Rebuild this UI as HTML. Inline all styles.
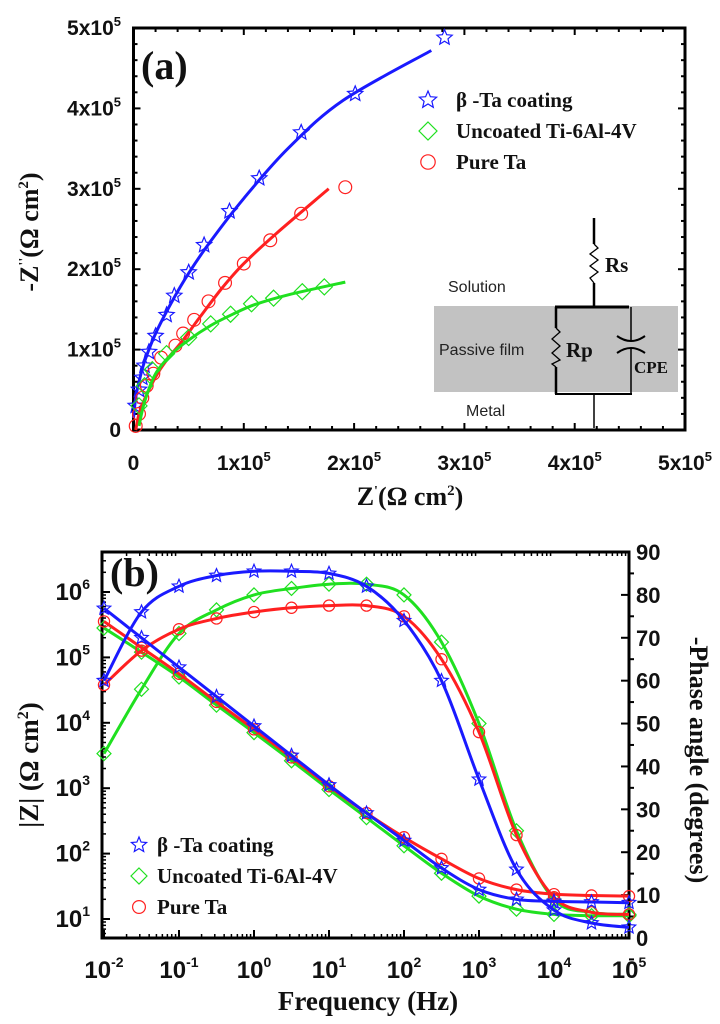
<!DOCTYPE html>
<html><head><meta charset="utf-8">
<style>
html,body{margin:0;padding:0;background:#fff;}
svg{display:block;}
text{font-family:"Liberation Serif",serif;font-weight:bold;fill:#111;}
.sans{font-family:"Liberation Sans",sans-serif;font-weight:normal;fill:#222;}
</style></head>
<body>
<svg id="fig" width="720" height="1024" viewBox="0 0 720 1024" xmlns="http://www.w3.org/2000/svg">
<rect width="720" height="1024" fill="#fff"/>
<g id="pa"></g>
<g id="pb"></g>
</svg>
<script>
// ---------- Panel (a) Nyquist data (units of 1e5 ohm cm2) ----------
const nyqBlueX = [0.02,0.05,0.08,0.1,0.14,0.2,0.3,0.37,0.5,0.64,0.87,1.14,1.52,2.01,2.82];
const nyqBlueY = [0.3,0.5,0.65,0.8,0.97,1.17,1.43,1.67,1.96,2.3,2.72,3.13,3.7,4.18,4.88];
const nyqRedX = [0.02,0.05,0.08,0.12,0.18,0.25,0.38,0.45,0.55,0.68,0.83,1.0,1.24,1.52,1.92];
const nyqRedY = [0.05,0.2,0.4,0.55,0.7,0.9,1.05,1.2,1.37,1.6,1.83,2.07,2.36,2.69,3.02];
const nyqGreenX = [0.05,0.1,0.17,0.3,0.5,0.7,0.88,1.07,1.27,1.53,1.73];
const nyqGreenY = [0.3,0.55,0.75,0.95,1.15,1.32,1.44,1.57,1.64,1.72,1.78];
const fitBlueX = [0,0.02,0.05,0.1,0.2,0.35,0.5,0.7,1.0,1.4,1.9,2.7];
const fitBlueY = [0.15,0.4,0.6,0.85,1.2,1.6,1.95,2.35,2.88,3.5,4.1,4.72];
const fitRedX = [0.02,0.05,0.1,0.2,0.3,0.45,0.6,0.8,1.0,1.3,1.77];
const fitRedY = [0,0.2,0.38,0.66,0.87,1.12,1.4,1.76,2.07,2.45,3.0];
const fitGreenX = [0.05,0.1,0.2,0.35,0.5,0.7,0.9,1.1,1.4,1.92];
const fitGreenY = [0.05,0.35,0.7,0.95,1.12,1.3,1.44,1.56,1.68,1.84];
const nyqTicks = [0,1,2,3,4,5];
const nyqTickLabels = ["0","1x10","2x10","3x10","4x10","5x10"];

// ---------- Panel (b) Bode data ----------
const logFreq = [-2,-1.5,-1,-0.5,0,0.5,1,1.5,2,2.5,3,3.5,4,4.5,5];
const logZBlue = [5.75,5.30,4.85,4.40,3.95,3.50,3.05,2.62,2.20,1.78,1.45,1.30,1.27,1.26,1.25];
const logZRed = [5.55,5.15,4.75,4.32,3.90,3.47,3.03,2.62,2.25,1.92,1.62,1.45,1.38,1.36,1.35];
const logZGreen = [5.45,5.08,4.70,4.27,3.85,3.42,2.98,2.55,2.12,1.70,1.35,1.15,1.07,1.05,1.05];
const phaseBlue = [60,76,82,84.5,85.5,85.5,85,82,74,60,37,16,6.5,3.5,2.5];
const phaseGreen = [43,58,71,76.5,80,81.5,82.5,82.5,80,69,50,25,9,6,5.5];
const phaseRed = [59,67,72,74.5,76,77,77.5,77.5,75,65,48,24,9.5,6,5.5];
const freqTicks = [-2,-1,0,1,2,3,4,5];
const zTicks = [1,2,3,4,5,6];
const phaseTicks = [0,10,20,30,40,50,60,70,80,90];

const NS="http://www.w3.org/2000/svg";
function mk(parent,tag,attrs,txt){const e=document.createElementNS(NS,tag);for(const k in attrs)e.setAttribute(k,attrs[k]);if(txt!==undefined)e.textContent=txt;parent.appendChild(e);return e;}
function smooth(pts){if(pts.length<2)return "";let d="M"+pts[0][0]+","+pts[0][1];for(let i=0;i<pts.length-1;i++){const p0=pts[Math.max(0,i-1)],p1=pts[i],p2=pts[i+1],p3=pts[Math.min(pts.length-1,i+2)];const c1=[p1[0]+(p2[0]-p0[0])/6,p1[1]+(p2[1]-p0[1])/6],c2=[p2[0]-(p3[0]-p1[0])/6,p2[1]-(p3[1]-p1[1])/6];d+=" C"+c1[0].toFixed(1)+","+c1[1].toFixed(1)+" "+c2[0].toFixed(1)+","+c2[1].toFixed(1)+" "+p2[0].toFixed(1)+","+p2[1].toFixed(1);}return d;}
function marker(g,type,x,y,r,color){
  let e;
  if(type==="star"){let d="";for(let i=0;i<10;i++){const a=-Math.PI/2+i*Math.PI/5;const rr=i%2?r*0.45:r;d+=(i?"L":"M")+(x+rr*Math.cos(a)).toFixed(1)+","+(y+rr*Math.sin(a)).toFixed(1);}e=mk(g,"path",{d:d+"Z",fill:"none",stroke:color,"stroke-width":1.2});}
  else if(type==="diamond"){e=mk(g,"path",{d:`M${x},${y-r}L${x+r},${y}L${x},${y+r}L${x-r},${y}Z`,fill:"none",stroke:color,"stroke-width":1.2});}
  else {e=mk(g,"circle",{cx:x,cy:y,r:r*0.8,fill:"none",stroke:color,"stroke-width":1.2});}
  return e;
}
const BLUE="#1a1aff",RED="#ff2020",GREEN="#20e020";

// ================= Panel (a) =================
(function(){
const g=document.getElementById("pa");
const L=133.5,R=685,T=28,B=430;
const sx=v=>L+v*(R-L)/5, sy=v=>B-v*(B-T)/5;
// inset circuit
const ins=mk(g,"g",{});


const gr=mk(ins,"rect",{x:434,y:306,width:244,height:86,fill:"#c2c2c2"});


mk(ins,"line",{x1:594,y1:218,x2:594,y2:244,stroke:"#000","stroke-width":2.5});
mk(ins,"path",{d:"M594,244 L598,248 L590,254 L598,260 L590,266 L598,272 L590,278 L594,283",fill:"none",stroke:"#000","stroke-width":1.3});
mk(ins,"line",{x1:594,y1:283,x2:594,y2:307,stroke:"#000","stroke-width":2.5});
mk(ins,"line",{x1:555,y1:307,x2:629,y2:307,stroke:"#000","stroke-width":3});
mk(ins,"line",{x1:556,y1:307,x2:556,y2:328,stroke:"#000","stroke-width":2.5});
mk(ins,"path",{d:"M556,328 L560,332 L552,339 L560,346 L552,353 L560,360 L552,364 L556,367",fill:"none",stroke:"#000","stroke-width":1.3});
mk(ins,"line",{x1:556,y1:367,x2:556,y2:394,stroke:"#000","stroke-width":2.5});
mk(ins,"line",{x1:631,y1:307,x2:631,y2:340,stroke:"#000","stroke-width":1.5});
mk(ins,"path",{d:"M617,336 Q631,346 645,336",fill:"none",stroke:"#000","stroke-width":2});
mk(ins,"path",{d:"M617,353 Q631,343 645,353",fill:"none",stroke:"#000","stroke-width":2});
mk(ins,"line",{x1:631,y1:349,x2:631,y2:394,stroke:"#000","stroke-width":1.5});
mk(ins,"line",{x1:555,y1:394,x2:632,y2:394,stroke:"#000","stroke-width":2});
mk(ins,"line",{x1:594,y1:394,x2:594,y2:428,stroke:"#000","stroke-width":1.5});
let t;
t=mk(ins,"text",{x:605,y:272,"font-size":21,"font-weight":"normal"},"Rs");

t=mk(ins,"text",{x:566,y:357,"font-size":21,"font-weight":"normal"},"Rp");

t=mk(ins,"text",{x:634,y:373,"font-size":17},"CPE");

t=mk(ins,"text",{x:448,y:292,"font-size":16,class:"sans"},"Solution");

t=mk(ins,"text",{x:439,y:355,"font-size":16,class:"sans"},"Passive film");

t=mk(ins,"text",{x:466,y:416,"font-size":16,class:"sans"},"Metal");


// axes box
const box=mk(g,"rect",{x:L,y:T,width:R-L,height:B-T,fill:"none",stroke:"#000","stroke-width":3});

for(let i=0;i<=25;i++){const v=i/5;const big=i%5===0;const len=big?7:4;
  mk(g,"line",{x1:sx(v),y1:B,x2:sx(v),y2:B-len,stroke:"#000","stroke-width":2});
  mk(g,"line",{x1:sx(v),y1:T,x2:sx(v),y2:T+len,stroke:"#000","stroke-width":2});
  mk(g,"line",{x1:L,y1:sy(v),x2:L+len,y2:sy(v),stroke:"#000","stroke-width":2});
  mk(g,"line",{x1:R,y1:sy(v),x2:R-len,y2:sy(v),stroke:"#000","stroke-width":2});}
nyqTicks.forEach((v,i)=>{
  const xl=mk(g,"text",{x:sx(v)+(v?0:0),y:470,"font-size":21,"text-anchor":"middle",class:"sans","style":"font-weight:bold;fill:#111"});
  
  xl.textContent=nyqTickLabels[i];
  if(v){const s=mk(xl,"tspan",{dy:-9,"font-size":13},"5");}
  const yl=mk(g,"text",{x:121,y:sy(v)+7,"font-size":21,"text-anchor":"end",class:"sans","style":"font-weight:bold;fill:#111"});
  
  yl.textContent=nyqTickLabels[i];
  if(v){mk(yl,"tspan",{dy:-9,"font-size":13},"5");}
});
t=mk(g,"text",{x:410,y:505,"font-size":26,"text-anchor":"middle"});

t.innerHTML='Z<tspan dy="-10" font-size="14">\'</tspan><tspan dy="10">(Ω cm</tspan><tspan dy="-10" font-size="15">2</tspan><tspan dy="10">)</tspan>';
t=mk(g,"text",{x:0,y:0,"font-size":26,"text-anchor":"middle",transform:"translate(38,232) rotate(-90)"});

t.innerHTML='-Z<tspan dy="-10" font-size="14">\'\'</tspan><tspan dy="10">(Ω cm</tspan><tspan dy="-10" font-size="15">2</tspan><tspan dy="10">)</tspan>';
t=mk(g,"text",{x:141,y:79,"font-size":40},"(a)");


// series
const series=[
 {n:"beta-ta",x:nyqBlueX,y:nyqBlueY,fx:fitBlueX,fy:fitBlueY,c:BLUE,m:"star"},
 {n:"pure-ta",x:nyqRedX,y:nyqRedY,fx:fitRedX,fy:fitRedY,c:RED,m:"circle"},
 {n:"uncoated",x:nyqGreenX,y:nyqGreenY,fx:fitGreenX,fy:fitGreenY,c:GREEN,m:"diamond"}];
series.forEach(s=>{
  const sg=mk(g,"g",{});
  
  
  s.x.forEach((v,i)=>{const mkr=marker(sg,s.m,sx(v),sy(s.y[i]),8,s.c);
    
    });
  const p=mk(sg,"path",{d:smooth(s.fx.map((v,i)=>[sx(v),sy(s.fy[i])])),fill:"none",stroke:s.c,"stroke-width":3});
  
  
});
// legend
const lg=mk(g,"g",{});

[["star",BLUE,"β  -Ta coating"],["diamond",GREEN,"Uncoated Ti-6Al-4V"],["circle",RED,"Pure Ta"]].forEach((e,i)=>{
  const y=100+i*31;
  const le=mk(lg,"g",{});
  
  marker(le,e[0],428,y,9,e[1]);
  mk(le,"text",{x:456,y:y+7,"font-size":21},e[2]);
});
})();

// ================= Panel (b) =================
(function(){
const g=document.getElementById("pb");
const L=102,R=629,T=552,B=938;
const sx=v=>104+(v+2)*(R-104)/7;
const zy=v=>592-(v-6)*65.4;
const py=v=>B-v*(B-T)/90;
const box=mk(g,"rect",{x:L,y:T,width:R-L,height:B-T,fill:"none",stroke:"#000","stroke-width":3});

// x ticks
for(let d=-2;d<=5;d++){
  mk(g,"line",{x1:sx(d),y1:B,x2:sx(d),y2:B-8,stroke:"#000","stroke-width":2});
  if(d<5)for(let k=2;k<10;k++){const xv=sx(d+Math.log10(k));mk(g,"line",{x1:xv,y1:B,x2:xv,y2:B-4,stroke:"#000","stroke-width":1.5});mk(g,"line",{x1:xv,y1:T,x2:xv,y2:T+4,stroke:"#000","stroke-width":1.5});}
}
freqTicks.forEach(v=>{
  const t=mk(g,"text",{x:sx(v),y:978,"font-size":24,"text-anchor":"middle",class:"sans","style":"font-weight:bold;fill:#111"},"10");
  
  mk(t,"tspan",{dy:-11,"font-size":14},String(v));
});
// left log ticks
for(let d=0;d<=6;d++){
  const yv=zy(d);
  if(yv>=T&&yv<=B)mk(g,"line",{x1:L,y1:yv,x2:L+8,y2:yv,stroke:"#000","stroke-width":2});
  for(let k=2;k<10;k++){const y2=zy(d+Math.log10(k));if(y2>=T&&y2<=B)mk(g,"line",{x1:L,y1:y2,x2:L+4,y2:y2,stroke:"#000","stroke-width":1.5});}
}
zTicks.forEach(v=>{
  const t=mk(g,"text",{x:90,y:zy(v)+8,"font-size":24,"text-anchor":"end",class:"sans","style":"font-weight:bold;fill:#111"},"10");
  
  mk(t,"tspan",{dy:-11,"font-size":14},String(v));
});
// right phase ticks
phaseTicks.forEach(v=>{
  mk(g,"line",{x1:R,y1:py(v),x2:R-8,y2:py(v),stroke:"#000","stroke-width":2});
  mk(g,"line",{x1:R,y1:py(v)+21.4,x2:R+5,y2:py(v)+21.4,stroke:"#000","stroke-width":2});
  const t=mk(g,"text",{x:636,y:py(v)+8,"font-size":22,class:"sans","style":"font-weight:bold;fill:#111"},String(v));
  
});
let t=mk(g,"text",{x:368,y:1010,"font-size":27,"text-anchor":"middle"},"Frequency (Hz)");

t=mk(g,"text",{x:0,y:0,"font-size":27,"text-anchor":"middle",transform:"translate(38,765) rotate(-90)"});

t.innerHTML='|Z| (Ω cm<tspan dy="-10" font-size="16">2</tspan><tspan dy="10">)</tspan>';
t=mk(g,"text",{x:0,y:0,"font-size":26,"text-anchor":"middle",transform:"translate(690,760) rotate(90)"},"-Phase angle (degrees)");

t=mk(g,"text",{x:110,y:586,"font-size":40},"(b)");


const ser=[
 {n:"uncoated",z:logZGreen,p:phaseGreen,c:GREEN,m:"diamond"},
 {n:"pure-ta",z:logZRed,p:phaseRed,c:RED,m:"circle"},
 {n:"beta-ta",z:logZBlue,p:phaseBlue,c:BLUE,m:"star"}];
ser.forEach(s=>{
  const sg=mk(g,"g",{});
  
  
  logFreq.forEach((f,i)=>{
    const a=marker(sg,s.m,sx(f),zy(s.z[i]),7,s.c);
    
    
    const b=marker(sg,s.m,sx(f),py(s.p[i]),7,s.c);
    
    
  });
  const l1=mk(sg,"path",{d:smooth(logFreq.map((f,i)=>[sx(f),zy(s.z[i])])),fill:"none",stroke:s.c,"stroke-width":3});
  
  
  const l2=mk(sg,"path",{d:smooth(logFreq.map((f,i)=>[sx(f),py(s.p[i])])),fill:"none",stroke:s.c,"stroke-width":3});
  
  
});
const lg=mk(g,"g",{});

[["star",BLUE,"β  -Ta coating"],["diamond",GREEN," Uncoated Ti-6Al-4V"],["circle",RED," Pure Ta"]].forEach((e,i)=>{
  const y=845+i*31;
  const le=mk(lg,"g",{});
  
  marker(le,e[0],139,y,8,e[1]);
  mk(le,"text",{x:157,y:y+7,"font-size":21,"xml:space":"preserve"},e[2]);
});
})();
</script>
</body></html>
